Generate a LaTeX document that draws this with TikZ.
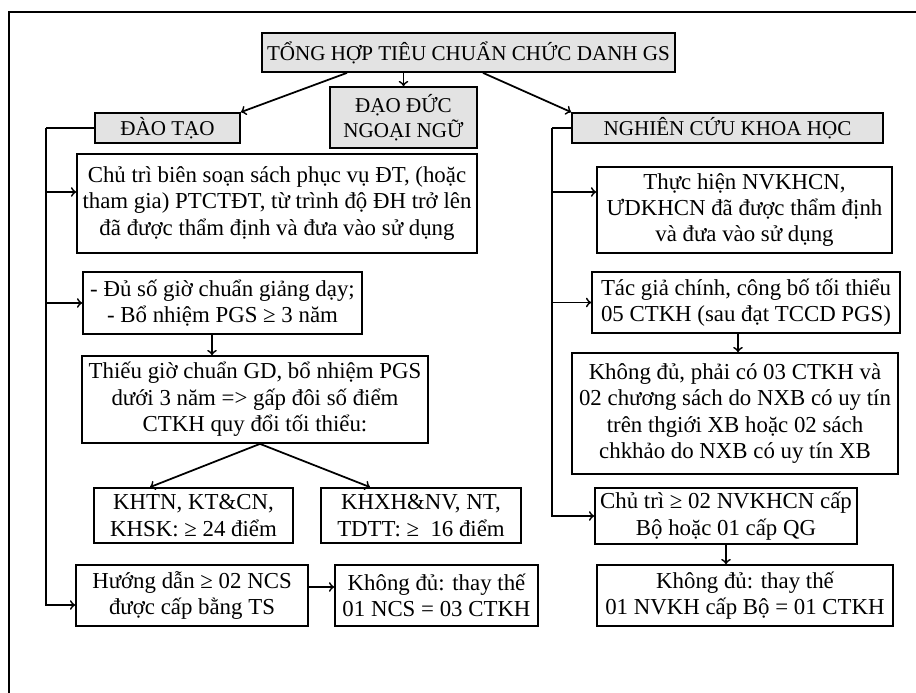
\documentclass[tikz,border=0pt]{standalone}
\usepackage{fontspec}
\setmainfont{Liberation Serif}
\usetikzlibrary{arrows, positioning, calc}

\tikzset{
  kop/.style={draw, line width=1pt, fill=gray!22, align=center, inner sep=1pt, font=\fontsize{12}{14}\selectfont},
  vak/.style={draw, line width=1pt, align=center, inner sep=1pt, font=\fontsize{13}{15}\selectfont},
  pijl/.style={line width=1pt, ->},
}

\begin{document}
\begin{tikzpicture}
        \useasboundingbox (0,0) rectangle (18.32,-13.86);
        % Kader
        \draw[line width=1.2pt] (0.18,-13.86) |- (18.32,-0.24);

        % Koppen
        \node[kop, minimum width=8.26cm, minimum height=0.78cm] (tong) at (9.37,-1.05) {TỔNG HỢP TIÊU CHUẨN CHỨC DANH GS};
        \node[kop, minimum width=2.9cm, minimum height=0.6cm] (daotao) at (3.35,-2.56) {ĐÀO TẠO};
        \node[kop, minimum width=2.94cm, minimum height=1.22cm] (daoduc) at (8.07,-2.35) {ĐẠO ĐỨC\\NGOẠI NGỮ};
        \node[kop, minimum width=6.22cm, minimum height=0.6cm] (nckh) at (14.55,-2.56) {NGHIÊN CỨU KHOA HỌC};

        % Kolom dao tao
        \node[vak, minimum width=8cm, minimum height=1.98cm] (sach) at (5.54,-4.07) {Chủ trì biên soạn sách phục vụ ĐT, (hoặc\\tham gia) PTCTĐT, từ trình độ ĐH trở lên\\đã được thẩm định và đưa vào sử dụng};
        \node[vak, minimum width=5.58cm, minimum height=1.24cm] (gio) at (4.45,-6.06) {- Đủ số giờ chuẩn giảng dạy;\\- Bổ nhiệm PGS ≥ 3 năm};
        \node[vak, minimum width=6.92cm, minimum height=1.74cm] (thieu) at (5.10,-7.99) {Thiếu giờ chuẩn GD, bổ nhiệm PGS\\dưới 3 năm => gấp đôi số điểm\\CTKH quy đổi tối thiểu:};
        \node[vak, minimum width=3.98cm, minimum height=1.1cm] (khtn) at (3.87,-10.31) {KHTN, KT\&CN,\\KHSK: ≥ 24 điểm};
        \node[vak, minimum width=4cm, minimum height=1.1cm] (khxh) at (8.42,-10.31) {KHXH\&NV, NT,\\TDTT: ≥ \ 16 điểm};
        \node[vak, minimum width=4.64cm, minimum height=1.22cm] (huongdan) at (3.84,-11.91) {Hướng dẫn ≥ 02 NCS\\được cấp bằng TS};
        \node[vak, minimum width=4.06cm, minimum height=1.22cm] (thaythe) at (8.73,-11.91) {Không đủ: thay thế\\01 NCS = 03 CTKH};

        % Kolom nghien cuu
        \node[vak, minimum width=5.9cm, minimum height=1.72cm] (thuchien) at (14.89,-4.20) {Thực hiện NVKHCN,\\ƯDKHCN đã được thẩm định\\và đưa vào sử dụng};
        \node[vak, minimum width=6.16cm, minimum height=1.22cm] (tacgia) at (14.92,-6.05) {Tác giả chính, công bố tối thiểu\\05 CTKH (sau đạt TCCD PGS)};
        \node[vak, minimum width=6.52cm, minimum height=2.42cm] (khongdu) at (14.70,-8.27) {Không đủ, phải có 03 CTKH và\\02 chương sách do NXB có uy tín\\trên thgiới XB hoặc 02 sách\\chkhảo do NXB có uy tín XB};
        \node[vak, minimum width=5.24cm, minimum height=1.12cm] (chutri) at (14.52,-10.32) {Chủ trì ≥ 02 NVKHCN cấp\\Bộ hoặc 01 cấp QG};
        \node[vak, minimum width=5.92cm, minimum height=1.22cm] (thaythebo) at (14.90,-11.91) {Không đủ: thay thế\\01 NVKH cấp Bộ = 01 CTKH};

        % Pijlen vanaf de titel
        \draw[pijl] ($(tong.south)+(-2.43,0)$) -- (daotao.north east);
        \draw[pijl] (daoduc.north |- tong.south) -- (daoduc.north);
        \draw[pijl] ($(tong.south)+(0.29,0)$) -- (nckh.north west);

        % Linker stam
        \coordinate (links) at (0.92,-2.56);
        \draw[line width=1pt] (daotao.west) -- (links);
        \draw[pijl] (links) |- ($(huongdan.west)+(0,-0.19)$);
        \draw[pijl] ($(links |- sach.west)+(0,0.23)$) -- ($(sach.west)+(0,0.23)$);
        \draw[pijl] (links |- gio.west) -- (gio.west);

        \coordinate (g) at ($(gio.south)+(-0.21,0)$);
        \draw[pijl] (g) -- (g |- thieu.north);
        \draw[pijl] ($(thieu.south)+(0.1,0)$) -- ($(khtn.north)+(-0.87,0)$);
        \draw[pijl] ($(thieu.south)+(0.1,0)$) -- ($(khxh.north)+(-1.02,0)$);
        \draw[pijl] ($(huongdan.east)+(0,0.17)$) -- ($(thaythe.west)+(0,0.17)$);

        % Rechter stam
        \coordinate (rechts) at (11.04,-2.56);
        \draw[line width=1pt] (nckh.west) -- (rechts);
        \draw[pijl] (rechts) |- (chutri.west);
        \draw[pijl] ($(rechts |- thuchien.west)+(0,0.36)$) -- ($(thuchien.west)+(0,0.36)$);
        \draw[pijl] (rechts |- tacgia.west) -- (tacgia.west);

        \coordinate (t) at ($(tacgia.south)+(-0.16,0)$);
        \draw[pijl] (t) -- (t |- khongdu.north);
        \draw[pijl] (chutri.south) -- (chutri.south |- thaythebo.north);

    \end{tikzpicture}
\end{document}
